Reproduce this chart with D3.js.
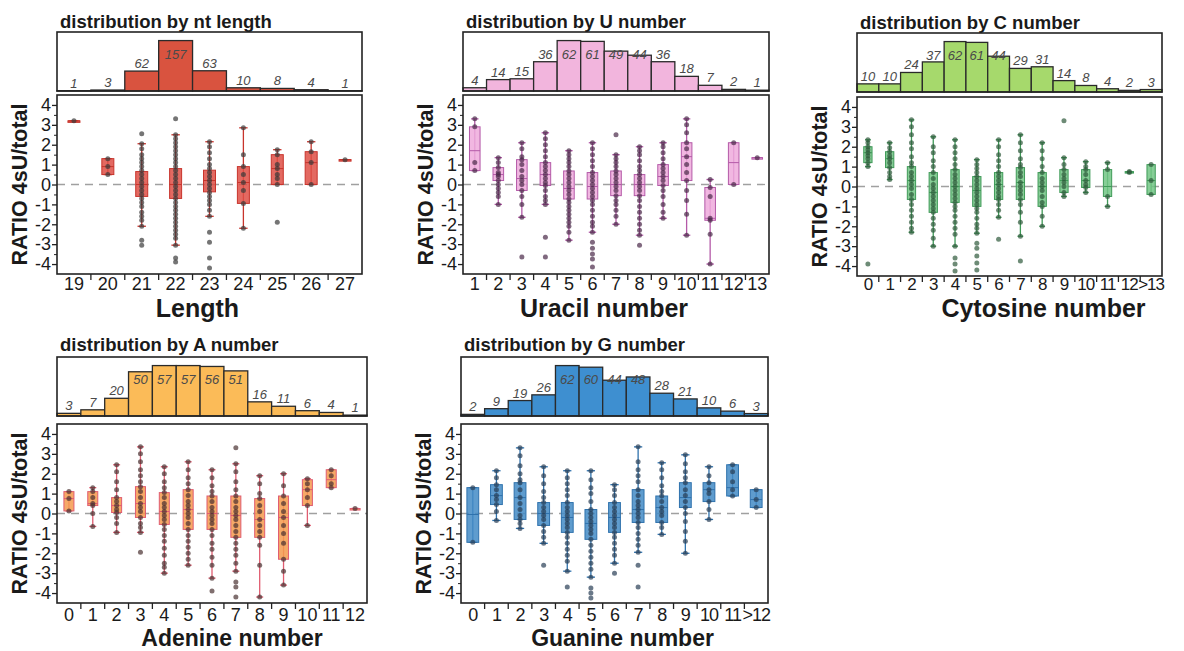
<!DOCTYPE html>
<html>
<head>
<meta charset="utf-8">
<script src="https://cdn.jsdelivr.net/npm/d3@7"></script>
<style>
  body { margin: 0; background: #fff; }
  svg { display: block; }
  text { font-family: "Liberation Sans", Arial, Helvetica, sans-serif; }
</style>
</head>
<body>
<script>
// Tamaño del lienzo
const WIDTH = 1184;
const HEIGHT = 651;

// ---------- datos: longitud ----------
const lengthCats = ["19", "20", "21", "22", "23", "24", "25", "26", "27"];
const lengthCounts = [1, 3, 62, 157, 63, 10, 8, 4, 1];
// [bigote inf, q1, mediana, q3, bigote sup]
const lengthBoxes = [
  [3.2, 3.2, 3.2, 3.2, 3.2], [0.5, 0.5, 0.9, 1.3, 1.3], [-2.1, -0.6, 0.0, 0.65, 2.05],
  [-3.05, -0.7, 0.0, 0.8, 2.5], [-1.6, -0.37, 0.2, 0.72, 2.15], [-2.2, -0.95, 0.1, 0.9, 2.85],
  [0.0, 0.0, 0.8, 1.5, 1.75], [0.0, 0.0, 1.1, 1.65, 2.15], [1.25, 1.25, 1.25, 1.25, 1.25]
];
const lengthPoints = [
  [3.2],
  [1.3, 0.9, 0.5],
  [2.55, 2.05, 1.8, 1.5, 1.3, 1.1, 0.9, 0.7, 0.5, 0.3, 0.1, -0.1, -0.3, -0.5, -0.7, -0.9, -1.1, -1.4, -1.6, -1.8, -2.1, -2.8, -3.05],
  [3.3, 2.5, 2.3, 2.1, 1.9, 1.7, 1.5, 1.3, 1.1, 0.9, 0.7, 0.5, 0.3, 0.1, -0.1, -0.3, -0.5, -0.7, -0.9, -1.1, -1.3, -1.5, -1.7, -1.9, -2.1, -2.3, -2.5, -2.7, -3.05, -3.7, -3.9],
  [2.15, 1.9, 1.6, 1.3, 1.0, 0.8, 0.6, 0.4, 0.2, 0.0, -0.2, -0.4, -0.6, -0.8, -1.0, -1.3, -1.6, -2.4, -2.9, -3.7, -4.2],
  [2.85, 1.5, 0.9, 0.5, 0.1, -0.3, -0.95, -2.2],
  [1.75, 1.5, 1.0, 0.8, 0.5, 0.3, 0.0, -1.9],
  [2.15, 1.65, 1.1, 0.0],
  [1.25]
];

// ---------- datos: uracilo ----------
const uCats = ["1", "2", "3", "4", "5", "6", "7", "8", "9", "10", "11", "12", "13"];
const uCounts = [4, 14, 15, 36, 62, 61, 49, 44, 36, 18, 7, 2, 1];
const uBoxes = [
  [0.7, 0.7, 1.7, 2.9, 3.3], [-1.0, 0.2, 0.5, 0.85, 1.35], [-1.65, -0.3, 0.3, 1.25, 2.1],
  [-1.0, -0.05, 0.5, 1.1, 2.6], [-2.8, -0.73, -0.2, 0.68, 1.7], [-2.4, -0.73, -0.1, 0.6, 2.1],
  [-2.0, -0.56, 0.0, 0.68, 1.5], [-2.55, -0.56, 0.0, 0.5, 1.9], [-1.7, -0.05, 0.4, 1.0, 2.1],
  [-2.55, 0.2, 1.4, 2.1, 3.3], [-4.0, -1.8, -1.7, -0.15, 0.25], [0.0, 0.0, 1.1, 2.1, 2.1],
  [1.35, 1.35, 1.35, 1.35, 1.35]
];
const uPoints = [
  [3.3, 2.9, 1.1, 0.7],
  [1.35, 1.1, 0.85, 0.6, 0.5, 0.4, 0.2, 0.0, -0.2, -0.4, -0.6, -1.0],
  [2.1, 1.8, 1.4, 1.25, 1.0, 0.7, 0.4, 0.2, 0.0, -0.3, -0.6, -1.0, -1.65, -3.65],
  [2.6, 2.3, 2.0, 1.7, 1.4, 1.1, 0.9, 0.7, 0.5, 0.3, 0.1, -0.05, -0.3, -0.6, -0.8, -1.0, -2.65, -3.65],
  [1.7, 1.5, 1.3, 1.1, 0.9, 0.68, 0.5, 0.3, 0.1, -0.1, -0.3, -0.5, -0.73, -0.9, -1.1, -1.3, -1.5, -1.7, -1.9, -2.1, -2.4, -2.8],
  [2.1, 1.8, 1.5, 1.2, 0.9, 0.6, 0.4, 0.2, 0.0, -0.2, -0.4, -0.6, -0.8, -1.0, -1.3, -1.6, -1.9, -2.1, -2.4, -2.9, -3.2, -3.5, -3.75, -4.15],
  [2.5, 1.5, 1.3, 1.1, 0.9, 0.68, 0.5, 0.3, 0.1, -0.1, -0.3, -0.56, -0.8, -1.0, -1.3, -1.6, -2.0],
  [1.9, 1.7, 1.5, 1.2, 0.9, 0.7, 0.5, 0.3, 0.1, -0.1, -0.3, -0.56, -0.8, -1.1, -1.4, -1.7, -2.0, -2.3, -2.55, -3.05],
  [2.1, 1.9, 1.6, 1.3, 1.0, 0.8, 0.6, 0.4, 0.2, -0.05, -0.3, -0.6, -1.0, -1.4, -1.7],
  [3.3, 3.0, 2.6, 2.1, 1.8, 1.4, 1.0, 0.6, 0.2, -0.3, -0.8, -1.5, -2.55],
  [0.25, -0.15, -0.6, -1.7, -1.8, -2.5, -4.0],
  [2.1, 0.0],
  [1.35]
];

// ---------- datos: citosina ----------
const cCats = ["0", "1", "2", "3", "4", "5", "6", "7", "8", "9", "10", "11", "12", ">13"];
const cCounts = [10, 10, 24, 37, 62, 61, 44, 29, 31, 14, 8, 4, 2, 3];
const cBoxes = [
  [1.0, 1.2, 1.7, 2.0, 2.35], [0.35, 0.95, 1.4, 1.75, 2.2], [-2.3, -0.65, 0.3, 1.0, 3.35],
  [-3.0, -1.3, -0.3, 0.7, 2.5], [-3.0, -0.8, 0.0, 0.85, 2.35], [-2.35, -1.0, -0.2, 0.5, 1.35],
  [-1.55, -0.65, 0.1, 0.7, 2.35], [-2.5, -0.65, 0.2, 0.95, 2.6], [-2.0, -1.0, 0.0, 0.7, 2.2],
  [-0.5, -0.3, 0.3, 0.85, 1.45], [-0.3, -0.05, 0.3, 0.85, 1.25], [-1.0, -0.5, 0.0, 0.85, 1.2],
  [0.7, 0.7, 0.72, 0.75, 0.75], [-0.4, -0.4, 0.3, 1.1, 1.1]
];
const cPoints = [
  [2.35, 2.2, 2.0, 1.85, 1.7, 1.55, 1.4, 1.2, 1.0, -3.9],
  [2.2, 1.95, 1.75, 1.55, 1.4, 1.2, 0.95, 0.7, 0.5, 0.35],
  [3.35, 3.0, 2.6, 2.2, 1.9, 1.5, 1.2, 1.0, 0.7, 0.5, 0.3, 0.1, -0.1, -0.4, -0.65, -0.9, -1.2, -1.5, -1.8, -2.1, -2.3],
  [2.5, 2.0, 1.7, 1.3, 1.0, 0.7, 0.4, 0.1, -0.1, -0.3, -0.5, -0.7, -0.9, -1.1, -1.3, -1.6, -1.9, -2.2, -2.6, -3.0],
  [2.35, 2.0, 1.7, 1.4, 1.1, 0.85, 0.6, 0.4, 0.2, 0.0, -0.2, -0.4, -0.6, -0.8, -1.0, -1.2, -1.5, -1.8, -2.1, -2.4, -3.0, -3.6, -3.9, -4.25],
  [1.35, 1.1, 0.9, 0.7, 0.5, 0.3, 0.1, -0.1, -0.3, -0.5, -0.7, -0.9, -1.1, -1.3, -1.6, -1.9, -2.1, -2.35, -2.85, -3.1, -3.5, -3.85, -4.2],
  [2.35, 2.0, 1.6, 1.3, 1.0, 0.7, 0.5, 0.3, 0.1, -0.1, -0.3, -0.5, -0.65, -0.9, -1.2, -1.55, -2.65],
  [2.6, 2.2, 1.8, 1.4, 1.1, 0.95, 0.7, 0.5, 0.2, 0.0, -0.2, -0.4, -0.65, -0.9, -1.3, -1.8, -2.5, -3.75],
  [2.2, 1.8, 1.4, 1.0, 0.7, 0.4, 0.2, 0.0, -0.2, -0.5, -0.8, -1.0, -1.5, -2.0],
  [3.3, 1.45, 1.1, 0.85, 0.6, 0.4, 0.2, 0.0, -0.3, -0.5],
  [1.25, 1.0, 0.85, 0.6, 0.3, 0.1, -0.05, -0.3],
  [1.2, 0.85, -0.5, -1.0],
  [0.75, 0.7],
  [1.1, 0.3, -0.4]
];

// ---------- datos: adenina ----------
const aCats = ["0", "1", "2", "3", "4", "5", "6", "7", "8", "9", "10", "11", "12"];
const aCounts = [3, 7, 20, 50, 57, 57, 56, 51, 16, 11, 6, 4, 1];
const aBoxes = [
  [0.13, 0.13, 0.75, 1.1, 1.1], [-0.65, 0.4, 0.5, 1.1, 1.3], [-0.95, 0.05, 0.4, 0.8, 2.45],
  [-0.95, -0.2, 0.5, 1.35, 3.35], [-3.0, -0.55, 0.1, 1.05, 2.35], [-2.6, -0.8, 0.2, 1.2, 2.6],
  [-3.25, -0.8, 0.0, 0.88, 2.2], [-2.9, -1.2, -0.1, 0.88, 2.5], [-4.2, -1.2, -0.3, 0.75, 1.9],
  [-3.6, -2.3, -0.2, 0.88, 2.0], [-0.6, 0.4, 1.2, 1.7, 1.75], [1.3, 1.3, 1.7, 2.2, 2.2],
  [0.25, 0.25, 0.25, 0.25, 0.25]
];
const aPoints = [
  [1.1, 0.75, 0.13],
  [1.3, 1.1, 0.8, 0.5, 0.4, 0.0, -0.65],
  [2.45, 2.1, 1.6, 1.2, 0.8, 0.6, 0.4, 0.2, 0.05, -0.2, -0.5, -0.95],
  [3.35, 3.0, 2.6, 2.2, 1.9, 1.6, 1.35, 1.1, 0.8, 0.5, 0.3, 0.1, -0.2, -0.5, -0.7, -0.95, -1.95],
  [2.35, 2.0, 1.6, 1.3, 1.05, 0.8, 0.5, 0.3, 0.1, -0.1, -0.3, -0.55, -0.8, -1.1, -1.4, -1.75, -2.1, -2.5, -2.7, -3.0],
  [2.6, 2.2, 1.8, 1.5, 1.2, 0.9, 0.6, 0.4, 0.2, 0.0, -0.2, -0.5, -0.8, -1.1, -1.4, -1.7, -2.0, -2.3, -2.6],
  [2.2, 1.8, 1.4, 1.1, 0.88, 0.6, 0.3, 0.1, -0.1, -0.3, -0.5, -0.8, -1.1, -1.5, -1.8, -2.2, -2.6, -3.25, -3.9],
  [3.3, 2.5, 2.1, 1.6, 1.2, 0.88, 0.6, 0.3, 0.1, -0.1, -0.3, -0.6, -0.9, -1.2, -1.5, -1.8, -2.1, -2.5, -2.9, -3.45, -3.7, -4.2],
  [1.9, 1.5, 1.0, 0.75, 0.4, 0.1, -0.3, -0.6, -0.9, -1.2, -1.6, -2.6, -4.2],
  [2.0, 1.4, 0.88, 0.5, 0.1, -0.2, -0.6, -1.0, -1.5, -2.3, -2.9, -3.6],
  [1.75, 1.5, 1.2, 0.8, 0.4, -0.6],
  [2.2, 1.9, 1.5, 1.3],
  [0.25]
];

// ---------- datos: guanina ----------
const gCats = ["0", "1", "2", "3", "4", "5", "6", "7", "8", "9", "10", "11", ">12"];
const gCounts = [2, 9, 19, 26, 62, 60, 44, 48, 28, 21, 10, 6, 3];
const gBoxes = [
  [-1.45, -1.45, -0.05, 1.3, 1.3], [-0.35, 0.45, 0.9, 1.45, 2.15], [-0.75, -0.3, 0.8, 1.55, 3.3],
  [-1.5, -0.6, 0.0, 0.55, 2.35], [-2.9, -0.95, -0.2, 0.55, 2.15], [-3.2, -1.3, -0.5, 0.2, 2.15],
  [-2.5, -0.95, -0.2, 0.55, 1.45], [-1.95, -0.45, 0.2, 1.2, 3.35], [-1.05, -0.45, 0.3, 0.88, 2.55],
  [-2.0, 0.3, 0.8, 1.55, 2.95], [-0.3, 0.6, 1.2, 1.55, 2.35], [0.88, 0.88, 1.3, 2.45, 2.45],
  [0.3, 0.3, 0.7, 1.2, 1.2]
];
const gPoints = [
  [1.3, -1.45],
  [2.15, 1.8, 1.45, 1.2, 0.9, 0.7, 0.45, 0.1, -0.35],
  [3.3, 2.9, 2.4, 2.0, 1.7, 1.55, 1.2, 0.8, 0.5, 0.2, -0.1, -0.3, -0.5, -0.75],
  [2.35, 1.9, 1.5, 1.1, 0.8, 0.55, 0.3, 0.1, -0.1, -0.3, -0.6, -0.9, -1.2, -1.5, -2.6],
  [2.15, 1.8, 1.5, 1.2, 0.9, 0.55, 0.3, 0.1, -0.1, -0.3, -0.5, -0.7, -0.95, -1.2, -1.5, -1.8, -2.1, -2.4, -2.9, -3.7],
  [2.15, 1.7, 1.3, 1.0, 0.6, 0.2, 0.0, -0.2, -0.4, -0.6, -0.8, -1.0, -1.3, -1.6, -1.9, -2.2, -2.5, -2.8, -3.2, -3.75, -4.0, -4.25],
  [1.45, 1.2, 0.9, 0.55, 0.3, 0.1, -0.1, -0.3, -0.5, -0.7, -0.95, -1.2, -1.5, -1.8, -2.1, -2.5, -3.0],
  [3.35, 2.6, 2.2, 1.9, 1.6, 1.2, 0.9, 0.6, 0.4, 0.2, 0.0, -0.2, -0.45, -0.7, -1.0, -1.3, -1.6, -1.95, -2.6, -3.7],
  [2.55, 2.2, 1.8, 1.4, 1.1, 0.88, 0.6, 0.3, 0.1, -0.1, -0.45, -0.7, -1.05],
  [2.95, 2.5, 2.1, 1.8, 1.55, 1.2, 0.9, 0.6, 0.3, 0.0, -0.4, -0.9, -1.4, -2.0],
  [2.35, 1.9, 1.55, 1.2, 1.0, 0.6, 0.2, -0.3],
  [2.45, 2.1, 1.6, 1.2, 0.88],
  [1.2, 0.7, 0.3]
];

const yTicks = [-4, -3, -2, -1, 0, 1, 2, 3, 4];
const yMinorTicks = [-3.5, -2.5, -1.5, -0.5, 0.5, 1.5, 2.5, 3.5];

const svg = d3.select("body")
  .append("svg")
  .attr("width", WIDTH)
  .attr("height", HEIGHT);

// Dibuja un panel: histograma arriba y cajas con puntos abajo
function drawPanel(p) {
  const g = svg.append("g");
  const right = p.left + p.width;

  const x = d3.scaleBand().domain(p.cats).range([p.left, right]);
  const y = d3.scaleLinear().domain([-4.5, 4.5]).range([p.mainTop + p.mainH, p.mainTop]);
  const hy = d3.scaleLinear()
    .domain([0, d3.max(p.counts) * 1.17])
    .range([p.histTop + p.histH, p.histTop]);

  // título
  g.append("text")
    .attr("x", p.left + 3)
    .attr("y", p.histTop - p.titleGap)
    .attr("font-size", 18.5)
    .attr("font-weight", "bold")
    .attr("fill", "#1a1a1a")
    .text(p.title);

  // barras del histograma
  g.selectAll("rect.bar")
    .data(p.cats)
    .join("rect")
    .attr("class", "bar")
    .attr("x", (d) => x(d))
    .attr("width", x.bandwidth())
    .attr("y", (d, i) => hy(p.counts[i]))
    .attr("height", (d, i) => hy(0) - hy(p.counts[i]))
    .attr("fill", p.barColor)
    .attr("stroke", "#2a2a2a")
    .attr("stroke-width", 1.3);

  // etiquetas de conteo
  g.selectAll("text.count")
    .data(p.cats)
    .join("text")
    .attr("class", "count")
    .attr("x", (d) => x(d) + x.bandwidth() / 2)
    .attr("y", (d, i) => Math.max(hy(p.counts[i]) - 7, p.histTop + 23) + 4)
    .attr("text-anchor", "middle")
    .attr("font-size", 13)
    .attr("font-style", "italic")
    .attr("fill", "#4a4a4a")
    .text((d, i) => p.counts[i]);

  // marco del histograma
  g.append("rect")
    .attr("x", p.left).attr("y", p.histTop)
    .attr("width", p.width).attr("height", p.histH)
    .attr("fill", "none").attr("stroke", "#222").attr("stroke-width", 1.6);

  // línea de cero
  g.append("line")
    .attr("x1", p.left).attr("x2", right)
    .attr("y1", y(0)).attr("y2", y(0))
    .attr("stroke", "#a0a0a0").attr("stroke-width", 1.3)
    .attr("stroke-dasharray", "8,6");

  const boxW = Math.min(12, x.bandwidth() * p.boxFrac);
  const cx = (d) => x(d) + x.bandwidth() / 2;

  // bigotes
  g.selectAll("line.whisker")
    .data(p.cats)
    .join("line")
    .attr("class", "whisker")
    .attr("x1", cx).attr("x2", cx)
    .attr("y1", (d, i) => y(p.boxes[i][0]))
    .attr("y2", (d, i) => y(p.boxes[i][4]))
    .attr("stroke", p.whiskerColor).attr("stroke-width", 1.3);

  // remates de los bigotes
  [0, 4].forEach((k) => {
    g.selectAll("line.cap" + k)
      .data(p.cats)
      .join("line")
      .attr("class", "cap" + k)
      .attr("x1", (d) => cx(d) - boxW * 0.35)
      .attr("x2", (d) => cx(d) + boxW * 0.35)
      .attr("y1", (d, i) => y(p.boxes[i][k]))
      .attr("y2", (d, i) => y(p.boxes[i][k]))
      .attr("stroke", p.whiskerColor).attr("stroke-width", 1.3);
  });

  // cajas
  g.selectAll("rect.box")
    .data(p.cats)
    .join("rect")
    .attr("class", "box")
    .attr("x", (d) => cx(d) - boxW / 2)
    .attr("width", boxW)
    .attr("y", (d, i) => y(p.boxes[i][3]))
    .attr("height", (d, i) => Math.max(1.5, y(p.boxes[i][1]) - y(p.boxes[i][3])))
    .attr("fill", p.boxColor).attr("fill-opacity", 0.85)
    .attr("stroke", p.whiskerColor).attr("stroke-width", 1);

  // medianas
  g.selectAll("line.median")
    .data(p.cats)
    .join("line")
    .attr("class", "median")
    .attr("x1", (d) => cx(d) - boxW / 2)
    .attr("x2", (d) => cx(d) + boxW / 2)
    .attr("y1", (d, i) => y(p.boxes[i][2]))
    .attr("y2", (d, i) => y(p.boxes[i][2]))
    .attr("stroke", p.whiskerColor).attr("stroke-width", 1);

  // puntos individuales
  const pts = [];
  p.cats.forEach((c, i) => p.points[i].forEach((v) => pts.push({ c: c, v: v })));
  g.selectAll("circle.pt")
    .data(pts)
    .join("circle")
    .attr("class", "pt")
    .attr("cx", (d) => cx(d.c))
    .attr("cy", (d) => y(d.v))
    .attr("r", 2.5)
    .attr("fill", p.pointColor)
    .attr("fill-opacity", 0.7);

  // marco principal
  g.append("rect")
    .attr("x", p.left).attr("y", p.mainTop)
    .attr("width", p.width).attr("height", p.mainH)
    .attr("fill", "none").attr("stroke", "#222").attr("stroke-width", 1.6);

  // eje Y
  const ejeY = g.append("g")
    .attr("transform", `translate(${p.left}, 0)`)
    .call(d3.axisLeft(y).tickValues(yTicks).tickSize(5).tickPadding(1).tickFormat((d) => String(d)));
  ejeY.select(".domain").remove();
  ejeY.selectAll("line").attr("stroke", "#222").attr("stroke-width", 1.3);
  ejeY.selectAll("text").attr("font-size", 18).attr("fill", "#1a1a1a")
    .attr("font-family", "'Liberation Sans', Arial, sans-serif");

  const ejeYmenor = g.append("g")
    .attr("transform", `translate(${p.left}, 0)`)
    .call(d3.axisLeft(y).tickValues(yMinorTicks).tickSize(3).tickFormat(""));
  ejeYmenor.select(".domain").remove();
  ejeYmenor.selectAll("line").attr("stroke", "#222").attr("stroke-width", 1);

  // eje X: etiquetas centradas y marcas en los bordes de cada banda
  const ejeX = g.append("g")
    .attr("transform", `translate(0, ${p.mainTop + p.mainH})`)
    .call(d3.axisBottom(x).tickSize(0).tickPadding(p.tickPad));
  ejeX.select(".domain").remove();
  ejeX.selectAll("text").attr("font-size", p.tickFont).attr("fill", "#1a1a1a")
    .attr("letter-spacing", p.tickSpacing)
    .attr("font-family", "'Liberation Sans', Arial, sans-serif");

  g.selectAll("line.bandtick")
    .data(p.cats.slice(1))
    .join("line")
    .attr("class", "bandtick")
    .attr("x1", (d) => x(d)).attr("x2", (d) => x(d))
    .attr("y1", p.mainTop + p.mainH)
    .attr("y2", p.mainTop + p.mainH + 6)
    .attr("stroke", "#222").attr("stroke-width", 1.3);

  // títulos de los ejes
  g.append("text")
    .attr("x", p.left + p.width / 2 + p.xTitleShift)
    .attr("y", p.xTitleY)
    .attr("text-anchor", "middle")
    .attr("font-size", p.xTitleFont)
    .attr("font-weight", "bold")
    .attr("fill", "#1a1a1a")
    .text(p.xTitle);

  g.append("text")
    .attr("transform", `translate(${p.left - 37}, ${p.mainTop + p.mainH / 2}) rotate(-90)`)
    .attr("text-anchor", "middle")
    .attr("dominant-baseline", "central")
    .attr("font-size", 21.5)
    .attr("font-weight", "bold")
    .attr("fill", "#1a1a1a")
    .text("RATIO 4sU/total");
}

const TOP = {
  histTop: 32, histH: 59, mainTop: 95, mainH: 179, titleGap: 4, tickPad: 3,
  xTitleY: 317, xTitleFont: 25, tickFont: 18, tickSpacing: 0
};
const BOTTOM = {
  histTop: 357, histH: 59, mainTop: 424, mainH: 179, titleGap: 6, tickPad: 5,
  xTitleY: 646, xTitleFont: 23, tickFont: 18, tickSpacing: 0
};

drawPanel(Object.assign({}, TOP, {
  left: 57, width: 305, title: "distribution by nt length", xTitle: "Length", xTitleShift: -12, boxFrac: 0.36,
  cats: lengthCats, counts: lengthCounts, boxes: lengthBoxes, points: lengthPoints,
  barColor: "#d9533f", boxColor: "#de4f45", whiskerColor: "#c8342c", pointColor: "#3a3a3a"
}));

drawPanel(Object.assign({}, TOP, {
  left: 463, width: 306, title: "distribution by U number", xTitle: "Uracil number", xTitleShift: -12, boxFrac: 0.45,
  cats: uCats, counts: uCounts, boxes: uBoxes, points: uPoints,
  barColor: "#f2b5dd", boxColor: "#eeaadc", whiskerColor: "#b45aa8", pointColor: "#4a2a48"
}));

drawPanel(Object.assign({}, TOP, {
  left: 857, width: 305, histTop: 33, mainTop: 97, title: "distribution by C number", xTitle: "Cytosine number",
  xTitleShift: 34, tickPad: 2, boxFrac: 0.38, tickFont: 17, tickSpacing: -1,
  cats: cCats, counts: cCounts, boxes: cBoxes, points: cPoints,
  barColor: "#a6d96c", boxColor: "#72c585", whiskerColor: "#3f9a58", pointColor: "#2f5a3c"
}));

drawPanel(Object.assign({}, BOTTOM, {
  left: 57, width: 310, title: "distribution by A number", xTitle: "Adenine number", xTitleShift: 20, boxFrac: 0.42,
  cats: aCats, counts: aCounts, boxes: aBoxes, points: aPoints,
  barColor: "#fbbb58", boxColor: "#f59a4e", whiskerColor: "#e05c70", pointColor: "#4a3232"
}));

drawPanel(Object.assign({}, BOTTOM, {
  left: 461, width: 307, title: "distribution by G number", xTitle: "Guanine number", xTitleShift: 8, boxFrac: 0.5,
  tickSpacing: -1,
  cats: gCats, counts: gCounts, boxes: gBoxes, points: gPoints,
  barColor: "#3e8fd0", boxColor: "#438bc6", whiskerColor: "#2f72ad", pointColor: "#2a3f55"
}));
</script>
</body>
</html>
